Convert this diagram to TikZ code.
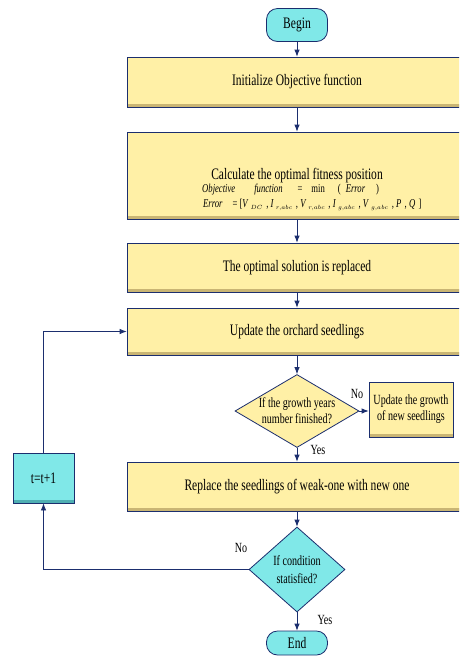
\documentclass[tikz,border=0pt]{standalone}
\usepackage{fontspec}
\setmainfont{Liberation Serif}[FakeStretch=0.72]
\usetikzlibrary{shapes.geometric,arrows.meta}
\definecolor{navy}{HTML}{1B2E6E}
\definecolor{yel}{HTML}{FFF0A6}
\definecolor{yelshade}{HTML}{C9B574}
\definecolor{cyn}{HTML}{80E8E8}
\definecolor{cynshade}{HTML}{4FAFB3}

\begin{document}
\begin{tikzpicture}[
									x = 1pt,
									y = -1pt,
									proc/.style = {
										draw = navy,
										line width = 0.8pt,
										fill = yel,
										inner sep = 0,
										minimum width = 340pt,
										font = \fontsize{16}{18}\selectfont,
										path picture = {
											\fill[yelshade] ([yshift = 3.5pt]path picture bounding box.south west) rectangle (path picture bounding box.south east);
										}
									},
									side/.style = {
										proc,
										minimum width = 84pt,
										minimum height = 55pt,
										align = center,
										font = \fontsize{14}{16}\selectfont
									},
									term/.style = {
										draw = navy,
										line width = 0.8pt,
										fill = cyn,
										rectangle,
										rounded corners = 11pt,
										inner sep = 0,
										minimum width = 61pt,
										font = \fontsize{16}{18}\selectfont
									},
									tbox/.style = {
										draw = navy,
										line width = 0.8pt,
										fill = cyn,
										inner sep = 0,
										minimum width = 61pt,
										minimum height = 50pt,
										font = \fontsize{16}{18}\selectfont,
										path picture = {
											\fill[cynshade] ([yshift = 3pt]path picture bounding box.south west) rectangle (path picture bounding box.south east);
										}
									},
									dec/.style = {
										draw = navy,
										line width = 0.8pt,
										diamond,
										inner sep = -2pt,
										align = center,
										font = \fontsize{14}{16}\selectfont
									},
									lbl/.style = {
										inner sep = 0,
										font = \fontsize{14}{16}\selectfont
									},
									flow/.style = {
										draw = navy,
										line width = 0.8pt,
										-{Latex[length = 7pt, width = 5.5pt]}
									}
								]
							\path[use as bounding box, fill = white] (0, 0) rectangle (459, 657);
							\clip (0, 0) rectangle (459, 657);

							\node [term, minimum height = 33pt] (begin) at (297, 25) {Begin};
							\node [proc, minimum height = 50pt] (init) at (297, 82) {Initialize Objective function};
							\node [proc, minimum height = 87pt] (calc) at (297, 175.5) {};
							\node [inner sep = 0, font = \fontsize{16}{18}\selectfont] (calctxt) at (297, 176) {Calculate the optimal fitness position};
							\node [inner sep = 0, font = \fontsize{12}{13}\selectfont, anchor = west] (objfn) at (202, 190)
								{\textit{Objective}\hspace{19pt}\textit{function}\hspace{15pt}=\hspace{9pt}min\hspace{13pt}(\hspace{5pt}\textit{Error}\hspace{11pt})};
							\node [inner sep = 0, font = \fontsize{12}{13}\selectfont, anchor = west] (errvec) at (203, 205)
								{\textit{Error}\hspace{10pt}= [\textit{V}\,$_{\scriptscriptstyle DC}$\;, \textit{I}\,$_{\scriptscriptstyle r,abc}$\;, \textit{V}\,$_{\scriptscriptstyle r,abc}$\;, \textit{I}\,$_{\scriptscriptstyle g,abc}$\;, \textit{V}\,$_{\scriptscriptstyle g,abc}$\;, \textit{P}\;, \textit{Q}\;]};
							\node [proc, minimum height = 49pt] (repl) at (297, 267.5) {The optimal solution is replaced};
							\node [proc, minimum height = 47pt] (upd) at (297, 331.5) {Update the orchard seedlings};
							\node [dec, fill = yel, aspect = 1.7, minimum width = 124pt, minimum height = 73pt] (grw) at (297, 411) {If the growth years\\number finished?};
							\node [side] (newsd) at (411, 409.5) {Update the growth\\of new seedlings};
							\node [proc, minimum height = 49pt] (weak) at (297, 486.5) {Replace the seedlings of weak-one with new one};
							\node [dec, fill = cyn, aspect = 1.13, minimum width = 96pt, minimum height = 85pt, font = \fontsize{14}{18}\selectfont] (cond) at (297, 569.5) {If condition\\statisfied?};
							\node [term, minimum height = 24pt] (end) at (297, 643) {End};
							\node [tbox] (tinc) at (43.5, 478) {t=t+1};

							\node [lbl] (no1) at (357, 394) {No};
							\node [lbl] (yes1) at (318, 450) {Yes};
							\node [lbl] (no2) at (241, 548) {No};
							\node [lbl] (yes2) at (325, 620) {Yes};

							\draw [flow] (begin) -- (init);
							\draw [flow] (init) -- (calc);
							\draw [flow] (calc) -- (repl);
							\draw [flow] (repl) -- (upd);
							\draw [flow] (upd) -- (grw);
							\draw [flow] (grw.east) -- (grw.east -| newsd.west);
							\draw [flow] (grw) -- (weak);
							\draw [flow] (weak) -- (cond);
							\draw [flow] (cond) -- (end);
							\draw [flow] (cond.west) -| (tinc.south);
							\draw [flow] (tinc.north) |- (upd.west);
						\end{tikzpicture}
\end{document}
